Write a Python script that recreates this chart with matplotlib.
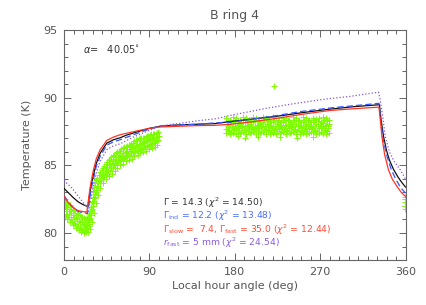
import matplotlib
matplotlib.use('agg')
import matplotlib.pyplot as plt
from matplotlib.ticker import MultipleLocator

# model curves (local hour angle in deg, temperature in K)
black_x = [0, 5, 10, 15, 20, 25.3, 27, 29, 31, 34, 38, 45, 52, 59, 66, 73, 80, 90, 101, 120, 140,
           159, 175, 200, 225, 250, 280, 305, 332.5, 334, 336.8, 340, 343, 347.4, 352, 356, 360]
black_t = [83.3, 82.95, 82.6, 82.3, 82.1, 81.95, 82.9, 83.7, 84.3, 85.15, 85.9, 86.65, 86.9, 87.05,
           87.25, 87.4, 87.55, 87.75, 87.9, 88.0, 88.05, 88.1, 88.25, 88.45, 88.65, 88.9, 89.17,
           89.35, 89.5, 88.5, 87.15, 86.1, 85.4, 84.7, 84.15, 83.75, 83.4]

blue_x = [0, 5, 10, 15, 20, 24.8, 27, 29, 31, 34, 38, 45, 52, 59, 73, 90, 101, 120, 140, 159, 175,
          200, 225, 250, 285.9, 305, 332, 333.5, 335.8, 340, 345, 350, 355, 360]
blue_t = [82.75, 82.25, 81.85, 81.6, 81.5, 81.45, 82.5, 83.4, 84.0, 84.95, 85.67, 86.5, 86.75, 86.9,
          87.27, 87.7, 87.9, 88.0, 88.05, 88.15, 88.2, 88.45, 88.7, 89.0, 89.3, 89.42, 89.6, 88.6,
          87.15, 85.8, 84.68, 83.95, 83.35, 82.95]

red_x = [0, 5, 10, 15, 20, 24, 26, 28, 31, 34, 38, 45, 52, 59, 73, 90, 101, 120, 140, 159, 175,
         200, 225, 250, 280, 305, 332, 333.5, 335.1, 338, 342, 346, 351, 355, 360]
red_t = [82.7, 82.2, 81.85, 81.65, 81.58, 81.55, 82.6, 83.6, 84.68, 85.5, 86.16, 86.85, 87.1, 87.27,
         87.5, 87.75, 87.85, 87.9, 87.95, 87.97, 88.05, 88.25, 88.5, 88.78, 89.07, 89.2, 89.32, 88.3,
         87.15, 85.8, 84.68, 84.0, 83.45, 83.05, 82.7]

purple_x = [0, 4, 8.4, 13, 18, 22, 26, 28, 30, 33, 38, 45, 52, 59, 73, 90, 101, 120, 143, 159, 175,
            213.8, 240, 277, 300, 331.5, 333.5, 336, 338.6, 343, 348, 354.4, 360]
purple_t = [83.9, 83.6, 83.33, 82.9, 82.45, 82.1, 81.75, 82.4, 83.2, 84.2, 85.3, 86.16, 86.45, 86.6,
            87.1, 87.6, 87.93, 88.1, 88.33, 88.45, 88.7, 89.24, 89.55, 89.93, 90.1, 90.42, 89.8,
            88.6, 87.15, 86.0, 85.3, 84.68, 84.0]

# measured temperatures (green crosses), first pass 0-100 deg
pass1_x = [0.5, 0.9, 0.3, 1.2, 3.0, 3.6, 2.7, 3.3, 6.0, 6.5, 5.7, 6.3, 9.0, 9.4, 8.6, 9.7,
           12.0, 12.5, 11.6, 12.2, 15.0, 15.3, 14.7, 15.6, 18.0, 18.4, 17.6, 18.2, 21.0, 21.3, 20.6, 21.5,
           23.0, 23.4, 22.7, 23.6, 25.0, 25.3, 24.6, 25.5, 27.0, 27.4, 26.7, 27.3, 29.0, 29.3, 28.7, 29.5,
           31.0, 31.4, 30.6, 31.2, 33.0, 33.5, 32.6, 33.2, 35.0, 35.4, 34.6, 35.3, 38.0, 38.5, 37.6, 38.2,
           41.0, 41.3, 40.6, 41.5, 44.0, 44.4, 43.7, 44.3, 47.0, 47.5, 46.6, 47.2, 50.0, 50.3, 49.6, 50.5,
           53.0, 53.4, 52.7, 53.3, 56.0, 56.5, 55.6, 56.2, 59.0, 59.3, 58.6, 59.5, 62.0, 62.4, 61.7, 62.3,
           65.0, 65.5, 64.6, 65.2, 68.0, 68.3, 67.6, 68.5, 71.0, 71.4, 70.7, 71.3, 74.0, 74.5, 73.6, 74.2,
           77.0, 77.3, 76.6, 77.5, 80.0, 80.4, 79.7, 80.3, 83.0, 83.5, 82.6, 83.2, 86.0, 86.3, 85.6, 86.5,
           89.0, 89.4, 88.7, 89.3, 92.0, 92.5, 91.6, 92.2, 95.0, 95.3, 94.6, 95.5, 98.0, 98.4, 97.7, 98.3,
           1.8, 2.1, 1.6, 4.6, 4.9, 4.3, 7.5, 7.8, 7.2, 10.4, 10.7, 10.1, 13.5, 13.8, 13.2,
           16.6, 16.9, 16.3, 19.4, 19.7, 19.1, 22.0, 22.3, 21.8, 24.0, 24.3, 23.8, 26.0, 26.3, 25.8,
           28.0, 28.3, 27.8, 30.0, 30.3, 29.8, 32.0, 32.3, 31.8, 34.0, 34.3, 33.8, 36.5, 36.8, 36.2,
           39.5, 39.8, 39.2, 42.5, 42.8, 42.2, 45.5, 45.8, 45.2, 48.5, 48.8, 48.2, 51.5, 51.8, 51.2,
           54.5, 54.8, 54.2, 57.5, 57.8, 57.2, 60.5, 60.8, 60.2, 63.5, 63.8, 63.2, 66.5, 66.8, 66.2,
           69.5, 69.8, 69.2, 72.5, 72.8, 72.2, 75.5, 75.8, 75.2, 78.5, 78.8, 78.2, 81.5, 81.8, 81.2,
           84.5, 84.8, 84.2, 87.5, 87.8, 87.2, 90.5, 90.8, 90.2, 93.5, 93.8, 93.2, 96.5, 96.8, 96.2,
           99.5, 99.8, 99.2]
pass1_t = [82.5, 82.0, 81.6, 81.2, 82.3, 81.9, 81.4, 81.0, 82.1, 81.6, 81.2, 80.8, 81.8, 81.3, 80.9, 80.6,
           81.6, 81.1, 80.7, 80.4, 81.4, 80.9, 80.5, 80.2, 81.2, 80.8, 80.4, 80.1, 81.1, 80.6, 80.2, 80.0,
           81.0, 80.6, 80.3, 80.05, 81.2, 80.8, 80.4, 80.1, 81.6, 81.1, 80.7, 80.3, 82.3, 81.8, 81.3, 80.8,
           83.1, 82.6, 82.0, 81.5, 83.7, 83.2, 82.7, 82.2, 84.1, 83.7, 83.2, 82.8, 84.5, 84.1, 83.7, 83.3,
           84.8, 84.4, 84.0, 83.7, 85.1, 84.7, 84.3, 84.0, 85.4, 85.0, 84.6, 84.2, 85.6, 85.2, 84.8, 84.4,
           85.8, 85.4, 85.0, 84.6, 86.0, 85.6, 85.2, 84.8, 86.1, 85.7, 85.3, 85.0, 86.3, 85.9, 85.5, 85.1,
           86.4, 86.0, 85.6, 85.3, 86.5, 86.1, 85.8, 85.4, 86.6, 86.3, 85.9, 85.5, 86.8, 86.4, 86.0, 85.7,
           86.9, 86.5, 86.1, 85.8, 87.0, 86.6, 86.2, 85.9, 87.0, 86.7, 86.3, 86.0, 87.1, 86.8, 86.4, 86.1,
           87.2, 86.9, 86.5, 86.2, 87.3, 87.0, 86.6, 86.3, 87.3, 87.0, 86.7, 86.4, 87.4, 87.1, 86.8, 86.5,
           82.25, 81.8, 81.3, 82.1, 81.65, 81.15, 81.9, 81.45, 81.0, 81.7, 81.2, 80.75, 81.5, 81.0, 80.55,
           81.3, 80.85, 80.4, 81.15, 80.7, 80.25, 81.05, 80.55, 80.15, 81.1, 80.7, 80.3, 81.4, 80.95, 80.5,
           81.95, 81.45, 81.0, 82.7, 82.2, 81.7, 83.4, 82.9, 82.4, 83.9, 83.45, 83.0, 84.3, 83.9, 83.5,
           84.65, 84.25, 83.85, 84.95, 84.55, 84.15, 85.25, 84.85, 84.45, 85.5, 85.1, 84.7, 85.7, 85.3, 84.9,
           85.9, 85.5, 85.1, 86.05, 85.65, 85.25, 86.2, 85.8, 85.4, 86.35, 85.95, 85.55, 86.45, 86.05, 85.7,
           86.55, 86.2, 85.8, 86.7, 86.35, 85.95, 86.85, 86.45, 86.05, 86.95, 86.55, 86.15, 87.0, 86.65, 86.25,
           87.05, 86.75, 86.35, 87.15, 86.85, 86.45, 87.25, 86.95, 86.55, 87.3, 87.0, 86.65, 87.35, 87.05, 86.75,
           87.45, 87.15, 86.85]

# second pass 170-280 deg
pass2_x = [171.0, 171.5, 170.5, 171.2, 174.5, 175.0, 174.0, 174.7, 178.0, 178.4, 177.6, 178.3,
           181.5, 182.0, 181.0, 181.7, 185.0, 185.5, 184.6, 185.2, 188.5, 189.0, 188.0, 188.7,
           192.0, 192.4, 191.6, 192.3, 195.5, 196.0, 195.0, 195.7, 199.0, 199.5, 198.6, 199.2,
           202.5, 203.0, 202.0, 202.7, 206.0, 206.4, 205.6, 206.3, 209.5, 210.0, 209.0, 209.7,
           213.0, 213.5, 212.6, 213.2, 216.5, 217.0, 216.0, 216.7, 220.0, 220.4, 219.6, 220.3,
           223.5, 224.0, 223.0, 223.7, 227.0, 227.5, 226.6, 227.2, 230.5, 231.0, 230.0, 230.7,
           234.0, 234.4, 233.6, 234.3, 237.5, 238.0, 237.0, 237.7, 241.0, 241.5, 240.6, 241.2,
           244.5, 245.0, 244.0, 244.7, 248.0, 248.4, 247.6, 248.3, 251.5, 252.0, 251.0, 251.7,
           255.0, 255.5, 254.6, 255.2, 258.5, 259.0, 258.0, 258.7, 262.0, 262.4, 261.6, 262.3,
           265.5, 266.0, 265.0, 265.7, 269.0, 269.5, 268.6, 269.2, 272.5, 273.0, 272.0, 272.7,
           276.0, 276.4, 275.6, 276.3, 279.0, 279.5, 278.6, 279.2,
           172.8, 173.1, 172.5, 176.3, 176.6, 176.0, 179.8, 180.1, 179.5, 183.3, 183.6, 183.0,
           186.8, 187.1, 186.5, 190.3, 190.6, 190.0, 193.8, 194.1, 193.5, 197.3, 197.6, 197.0,
           200.8, 201.1, 200.5, 204.3, 204.6, 204.0, 207.8, 208.1, 207.5, 211.3, 211.6, 211.0,
           214.8, 215.1, 214.5, 218.3, 218.6, 218.0, 221.8, 222.1, 221.5, 225.3, 225.6, 225.0,
           228.8, 229.1, 228.5, 232.3, 232.6, 232.0, 235.8, 236.1, 235.5, 239.3, 239.6, 239.0,
           242.8, 243.1, 242.5, 246.3, 246.6, 246.0, 249.8, 250.1, 249.5, 253.3, 253.6, 253.0,
           256.8, 257.1, 256.5, 260.3, 260.6, 260.0, 263.8, 264.1, 263.5, 267.3, 267.6, 267.0,
           270.8, 271.1, 270.5, 274.3, 274.6, 274.0, 277.6, 277.9, 277.3,
           190.5, 205.0, 246.0, 262.5, 183.0, 228.0]
pass2_t = [88.5, 88.1, 87.7, 87.4, 88.4, 88.0, 87.6, 87.3, 88.6, 88.2, 87.8, 87.4,
           88.5, 88.0, 87.7, 87.35, 88.4, 88.1, 87.8, 87.4, 88.6, 88.2, 87.9, 87.5,
           88.5, 88.0, 87.6, 87.3, 88.4, 88.1, 87.7, 87.4, 88.6, 88.2, 87.8, 87.45,
           88.5, 88.0, 87.7, 87.3, 88.4, 88.1, 87.8, 87.4, 88.6, 88.2, 87.9, 87.5,
           88.5, 88.1, 87.7, 87.35, 88.4, 88.0, 87.6, 87.3, 88.6, 88.2, 87.8, 87.4,
           88.5, 88.1, 87.7, 87.3, 88.4, 88.0, 87.7, 87.4, 88.55, 88.2, 87.8, 87.45,
           88.5, 88.0, 87.6, 87.3, 88.4, 88.1, 87.8, 87.4, 88.6, 88.2, 87.9, 87.5,
           88.5, 88.1, 87.7, 87.35, 88.4, 88.0, 87.6, 87.3, 88.6, 88.2, 87.8, 87.4,
           88.5, 88.1, 87.7, 87.3, 88.4, 88.0, 87.7, 87.4, 88.55, 88.2, 87.8, 87.45,
           88.45, 88.05, 87.65, 87.3, 88.5, 88.1, 87.75, 87.4, 88.6, 88.15, 87.8, 87.35,
           88.5, 88.0, 87.6, 87.3, 88.4, 88.1, 87.8, 87.4,
           88.3, 87.9, 87.55, 88.25, 87.85, 87.5, 88.35, 87.95, 87.6, 88.3, 87.9, 87.55,
           88.25, 87.85, 87.5, 88.35, 87.95, 87.6, 88.3, 87.9, 87.55, 88.25, 87.85, 87.5,
           88.35, 87.95, 87.6, 88.3, 87.9, 87.55, 88.25, 87.85, 87.5, 88.35, 87.95, 87.6,
           88.3, 87.9, 87.55, 88.25, 87.85, 87.5, 88.35, 87.95, 87.6, 88.3, 87.9, 87.55,
           88.25, 87.85, 87.5, 88.35, 87.95, 87.6, 88.3, 87.9, 87.55, 88.25, 87.85, 87.5,
           88.35, 87.95, 87.6, 88.3, 87.9, 87.55, 88.25, 87.85, 87.5, 88.35, 87.95, 87.6,
           88.3, 87.9, 87.55, 88.25, 87.85, 87.5, 88.35, 87.95, 87.6, 88.3, 87.9, 87.55,
           88.25, 87.85, 87.5, 88.35, 87.95, 87.6, 88.3, 87.9, 87.55,
           87.05, 87.1, 87.05, 87.1, 87.15, 87.1]

# stray point and the few at the right edge
extra_x = [221.5, 359.0, 359.5, 359.8, 359.3, 359.9]
extra_t = [90.9, 82.7, 82.3, 82.0, 81.8, 82.5]

legend_lines = [r'$\Gamma$ = 14.3 ($\chi^2$ = 14.50)',
                r'$\Gamma_{\rm ind}$ = 12.2 ($\chi^2$ = 13.48)',
                r'$\Gamma_{\rm slow}$ =  7.4, $\Gamma_{\rm fast}$ = 35.0 ($\chi^2$ = 12.44)',
                r'$r_{\rm fast}$ = 5 mm ($\chi^2$ = 24.54)']
legend_colors = ['#333333', '#4a6cff', '#ff4a33', '#8a5ae0']

axis_grey = '#666666'
text_grey = '#555555'

fig = plt.figure(figsize=(4.27, 3.05), dpi=100)
ax = fig.add_axes([0.15, 0.1475, 0.7997, 0.7528])

ax.plot(pass1_x + pass2_x + extra_x, pass1_t + pass2_t + extra_t, linestyle='none', marker='+',
        color='#7cfc00', markersize=5, markeredgewidth=0.7, zorder=2)

ax.plot(black_x, black_t, color='#111111', lw=0.9, zorder=3)
ax.plot(blue_x, blue_t, color='#3355ff', lw=0.9, dashes=(5, 2.5), zorder=3)
ax.plot(red_x, red_t, color='#ff3322', lw=0.9, zorder=3)
ax.plot(purple_x, purple_t, color='#8855dd', lw=0.9, linestyle=(0, (1, 1.6)), zorder=3)

ax.set_xlim(0, 360)
ax.set_ylim(78, 95)
ax.xaxis.set_major_locator(MultipleLocator(90))
ax.xaxis.set_minor_locator(MultipleLocator(10))
ax.yaxis.set_major_locator(MultipleLocator(5))
ax.yaxis.set_minor_locator(MultipleLocator(1))
ax.tick_params(which='both', direction='in', top=True, right=True,
               colors=axis_grey, labelcolor=text_grey, labelsize=8, width=0.7)
ax.tick_params(which='major', length=5, pad=5)
ax.tick_params(which='minor', length=3)
for s in ax.spines.values():
    s.set_color(axis_grey)
    s.set_linewidth(0.8)

ax.set_xlabel('Local hour angle (deg)', color=text_grey, fontsize=8, labelpad=3)
ax.set_ylabel('Temperature (K)', color=text_grey, fontsize=8, labelpad=8)
ax.set_title('B ring 4', color=text_grey, fontsize=9, pad=8)

ax.text(0.055, 0.92, r'$\alpha$=   40.05$^{\circ}$', transform=ax.transAxes,
        fontsize=7, color='#333333', va='center')

for i, (txt, col) in enumerate(zip(legend_lines, legend_colors)):
    ax.text(0.29, 0.25 - i * 0.0585, txt, transform=ax.transAxes,
            fontsize=6.6, color=col, va='center')

fig.savefig('out.png', dpi=100)
plt.close(fig)
